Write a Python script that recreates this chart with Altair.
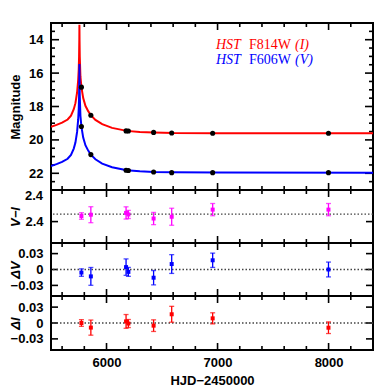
import altair as alt
import pandas as pd

# ---------------- data (HJD-2450000) ----------------
hjd = [5774, 5859, 6176, 6197, 6424, 6587, 6956, 7999]
mag_I = [16.84, 18.52, 19.46, 19.47, 19.55, 19.59, 19.60, 19.60]
mag_V = [19.20, 20.88, 21.82, 21.83, 21.92, 21.96, 21.96, 21.96]
v_minus_i = [2.361, 2.3635, 2.367, 2.364, 2.356, 2.3595, 2.3735, 2.3735]
v_minus_i_err = [0.0064, 0.0157, 0.012, 0.008, 0.012, 0.0167, 0.012, 0.012]
delta_V = [-0.0058, -0.013, 0.0045, -0.0045, -0.0155, 0.0103, 0.0174, 0.0]
delta_V_err = [0.007, 0.0168, 0.0155, 0.0084, 0.0135, 0.0177, 0.0135, 0.014]
delta_I = [0.0, -0.0087, 0.003, -0.001, -0.005, 0.0165, 0.0088, -0.0089]
delta_I_err = [0.0063, 0.0143, 0.013, 0.0076, 0.011, 0.015, 0.0105, 0.011]
vmi_ref = [2.3645]
zero_ref = [0.0]

# model light curves
model_hjd = [5500, 5550, 5600, 5650, 5680, 5705, 5720, 5735, 5745, 5750, 5753,
             5755, 5756, 5757, 5759, 5765, 5774, 5790, 5810, 5835, 5859, 5900,
             5961, 6050, 6182, 6300, 6424, 6600, 7000, 8400]
model_I = [19.22, 19.10, 18.97, 18.78, 18.55, 18.16, 17.80, 17.16, 16.40, 15.76, 15.0,
           14.0, 13.1, 14.0, 15.0, 16.2, 16.84, 17.5, 17.96, 18.28, 18.52, 18.80,
           19.06, 19.28, 19.46, 19.52, 19.55, 19.59, 19.60, 19.60]
model_V = [21.56, 21.45, 21.32, 21.13, 20.90, 20.52, 20.16, 19.52, 18.76, 18.12, 17.36,
           16.36, 15.46, 16.36, 17.36, 18.56, 19.20, 19.86, 20.32, 20.64, 20.88, 21.16,
           21.42, 21.64, 21.82, 21.88, 21.92, 21.94, 21.95, 21.96]

legend_I = ["HST", "F814W", "(I)"]
legend_V = ["HST", "F606W", "(V)"]
legend_styles = ["italic", "normal", "italic"]

x_major = [6000, 7000, 8000]
x_minor = [5600, 5800, 6200, 6400, 6600, 6800, 7200, 7400, 7600, 7800, 8200]
mag_major = [14, 16, 18, 20, 22]
mag_minor = [13.5, 14.5, 15, 15.5, 16.5, 17, 17.5, 18.5, 19, 19.5,
             20.5, 21, 21.5, 22.5]
vmi_major = [2.35, 2.4]
delta_major = [-0.03, 0, 0.03]

# ---------------- layout / style ----------------
XDOM = [5500, 8400]
W = 322
FONT = "Liberation Sans"
AX = dict(domain=False, grid=False, ticks=False,
          labelColor="black", labelFont=FONT, labelFontSize=13, labelFontWeight="bold",
          titleColor="black", titleFont=FONT, titleFontSize=13, titleFontWeight="bold",
          labelFlush=False, labelOverlap=False, labelBound=False)
TICK = dict(color="black", strokeWidth=1.6)

model_df = pd.concat([
    pd.DataFrame({"hjd": model_hjd, "mag": model_I, "band": "I"}),
    pd.DataFrame({"hjd": model_hjd, "mag": model_V, "band": "V"}),
])
pts_df = pd.concat([
    pd.DataFrame({"hjd": hjd, "mag": mag_I}),
    pd.DataFrame({"hjd": hjd, "mag": mag_V}),
])
one = pd.DataFrame({"k": [0]})


def res_df(vals, errs):
    return pd.DataFrame({"hjd": hjd, "val": vals,
                         "lo": [v - e for v, e in zip(vals, errs)],
                         "hi": [v + e for v, e in zip(vals, errs)]})


def panel(make_main, ydom, yrev, ymaj, ymin, ylen, height, ytitle, ystyle, yfmt, last,
          edge_label=None):
    xscale = alt.Scale(domain=XDOM, nice=False, zero=False)
    yscale = alt.Scale(domain=ydom, reverse=yrev, nice=False, zero=False)
    ax_x = alt.Axis(orient="bottom", values=x_major, labels=last, labelPadding=6, format="d",
                    title=("HJD\u22122450000" if last else ""),
                    titleY=30, titleBaseline="middle", titleAlign="center", **AX)
    ax_y = alt.Axis(orient="left", values=ymaj, labelPadding=8, format=yfmt,
                    title=ytitle, titleX=-36, titleY=height / 2, titleAngle=270,
                    titleAlign="center", titleBaseline="middle", titleFontStyle=ystyle, **AX)

    def X(f):
        return alt.X(f, type="quantitative", scale=xscale, axis=ax_x)

    def Y(f):
        return alt.Y(f, type="quantitative", scale=yscale, axis=ax_y)

    # inward tick marks on all four sides, placed through the scales
    layers = []
    ymaj_df = pd.DataFrame({"t": ymaj})
    ymin_df = pd.DataFrame({"t": ymin})
    xmaj_df = pd.DataFrame({"t": x_major})
    xmin_df = pd.DataFrame({"t": x_minor})
    for d, ln in ((ymaj_df, ylen), (ymin_df, 4)):
        if len(d):
            layers.append(alt.Chart(d).mark_rule(**TICK).encode(
                y=Y("t"), x=alt.value(0), x2=alt.value(ln)))
            layers.append(alt.Chart(d).mark_rule(**TICK).encode(
                y=Y("t"), x=alt.value(W), x2=alt.value(W - ln)))
    for d, ln in ((xmaj_df, 7), (xmin_df, 4)):
        layers.append(alt.Chart(d).mark_rule(**TICK).encode(
            x=X("t"), y=alt.value(0), y2=alt.value(ln)))
        layers.append(alt.Chart(d).mark_rule(**TICK).encode(
            x=X("t"), y=alt.value(height), y2=alt.value(height - ln)))
    if edge_label is not None:
        # tick label that sits at the very top edge of the panel
        ed = pd.DataFrame({"t": edge_label, "s": [format(v, "g") for v in edge_label]})
        layers.append(alt.Chart(ed).mark_text(
            align="left", baseline="middle", font=FONT, fontSize=13, fontWeight="bold",
            color="black").encode(y=Y("t"), x=alt.value(-26), text="s:N"))
    layers += make_main(X, Y)
    return alt.layer(*layers).properties(width=W, height=height)


# ---- panel 1: light curves ----
def main1(X, Y):
    cI = alt.Chart(model_df[model_df.band == "I"]).mark_line(
        color="#ff0000", strokeWidth=2, clip=True).encode(x=X("hjd"), y=Y("mag"))
    cV = alt.Chart(model_df[model_df.band == "V"]).mark_line(
        color="#0000ff", strokeWidth=2, clip=True).encode(x=X("hjd"), y=Y("mag"))
    pts = alt.Chart(pts_df).mark_point(filled=True, color="black", size=26, opacity=1).encode(
        x=X("hjd"), y=Y("mag"))
    texts = []
    xs_ = [165, 198, 244]
    for lab, xx, st in zip(legend_I, xs_, legend_styles):
        texts.append(alt.Chart(one).mark_text(text=lab, align="left", baseline="alphabetic",
                                              font="Liberation Serif", fontSize=14, fontStyle=st,
                                              color="#ff0000").encode(x=alt.value(xx), y=alt.value(25.5)))
    for lab, xx, st in zip(legend_V, xs_, legend_styles):
        texts.append(alt.Chart(one).mark_text(text=lab, align="left", baseline="alphabetic",
                                              font="Liberation Serif", fontSize=14, fontStyle=st,
                                              color="#0000ff").encode(x=alt.value(xx), y=alt.value(40.5)))
    return [cI, cV, pts] + texts


def make_res(df, ref, color):
    def mk(X, Y):
        refl = alt.Chart(pd.DataFrame({"val": ref})).mark_rule(
            color="#444444", strokeWidth=1.3, strokeDash=[1.5, 2]).encode(y=Y("val"))
        bars = alt.Chart(df).mark_rule(color=color, strokeWidth=1.3).encode(
            x=X("hjd"), y=Y("lo"), y2="hi")
        cap_lo = alt.Chart(df).mark_tick(color=color, orient="horizontal", size=5, thickness=1.3).encode(
            x=X("hjd"), y=Y("lo"))
        cap_hi = alt.Chart(df).mark_tick(color=color, orient="horizontal", size=5, thickness=1.3).encode(
            x=X("hjd"), y=Y("hi"))
        pts = alt.Chart(df).mark_point(filled=True, shape="square", size=16, color=color, opacity=1).encode(
            x=X("hjd"), y=Y("val"))
        return [refl, bars, cap_lo, cap_hi, pts]
    return mk


df_vmi = res_df(v_minus_i, v_minus_i_err)
df_dV = res_df(delta_V, delta_V_err)
df_dI = res_df(delta_I, delta_I_err)

p1 = panel(main1, [13, 23], True, mag_major, mag_minor, 8, 167,
           "Magnitude", "normal", "d", False)
p2 = panel(make_res(df_vmi, vmi_ref, "#ff00ff"), [2.308, 2.412], False,
           vmi_major[:1], [], 7, 53, "V\u2212I", "italic", "~g", False,
           edge_label=vmi_major[-1:])
p3 = panel(make_res(df_dV, zero_ref, "#0000ff"), [-0.05, 0.05], False,
           delta_major, [], 7, 53, "\u0394V", "italic", "~g", False)
p4 = panel(make_res(df_dI, zero_ref, "#ff0000"), [-0.051, 0.051], False,
           delta_major, [], 7, 54, "\u0394I", "italic", "~g", True)

chart = alt.vconcat(p1, p2, p3, p4, spacing=0, bounds="flush").properties(
    padding={"left": 0, "top": 13, "right": 0, "bottom": 0}
).configure_view(stroke="black", strokeWidth=2)

chart.save("out.html", embed_options={"renderer": "svg", "actions": False})
